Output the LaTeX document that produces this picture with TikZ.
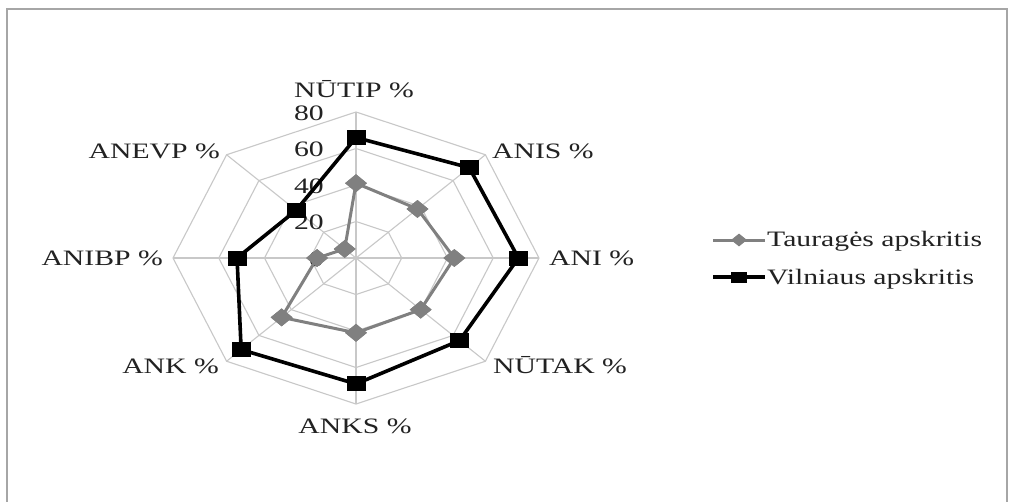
\documentclass[tikz,border=0pt]{standalone}
\usepackage{fontspec}
\usepackage{graphicx}
\setmainfont{Liberation Serif}
\usetikzlibrary{shapes.geometric}
\newcommand\hstr[1]{\scalebox{1.35}[1]{#1}}
\definecolor{gridc}{HTML}{C8C8C8}
\definecolor{serg}{HTML}{808080}
\definecolor{txtc}{HTML}{222222}
\definecolor{framec}{HTML}{A6A6A6}
\tikzset{
  gridln/.style={draw=gridc, line width=1.1pt},
  lab/.style={inner sep=0pt, text=txtc, font=\fontsize{22}{26}\selectfont},
  tline/.style={draw=serg, line width=3pt, line join=round},
  vline/.style={draw=black, line width=3.6pt, line join=miter},
  tmark/.style={diamond, fill=serg, draw=none, inner sep=0pt, minimum width=22pt, minimum height=18pt},
  vmark/.style={rectangle, fill=black, draw=none, inner sep=0pt, minimum width=19pt, minimum height=15pt},
  tlegmark/.style={diamond, fill=serg, draw=none, inner sep=0pt, minimum width=16pt, minimum height=13pt},
  vlegmark/.style={rectangle, fill=black, draw=none, inner sep=0pt, minimum width=16pt, minimum height=11pt},
}
\begin{document}
\begin{tikzpicture}[x=1pt, y=-1pt]
\useasboundingbox (0,0) rectangle (1009,501);
\fill[white] (0,0) rectangle (1009,501);
\draw[framec, line width=2pt] (6.5,520) -- (6.5,9) -- (1007,9) -- (1007,520);

\begin{scope}[shift={(356,258)}, x=2.2875pt, y=1.825pt]
  % grid
  \foreach \r in {20,40,60,80}
    \draw[gridln] (0:\r) -- (45:\r) -- (90:\r) -- (135:\r) -- (180:\r) -- (225:\r) -- (270:\r) -- (315:\r) -- cycle;
  \foreach \a in {0,45,...,315}
    \draw[gridln] (0,0) -- (\a:80);
  % scale labels
  \foreach \v/\n in {0/s0,20/s20,40/s40,60/s60,80/s80}
    \node[lab, anchor=base east] (\n) at ([xshift=-32pt, yshift=-8pt]90:\v) {\hstr{\v}};
  % Taurages
  \node[tmark] (t1) at (90:41) {};
  \node[tmark] (t2) at (45:38) {};
  \node[tmark] (t3) at (0:43) {};
  \node[tmark] (t4) at (-45:40) {};
  \node[tmark] (t5) at (-90:41) {};
  \node[tmark] (t6) at (-135:46) {};
  \node[tmark] (t7) at (180:17) {};
  \node[tmark] (t8) at (135:7) {};
  \draw[tline] (t1.center) -- (t2.center) -- (t3.center) -- (t4.center) -- (t5.center) -- (t6.center) -- (t7.center) -- (t8.center) -- cycle;
  \foreach \i in {1,...,8} \node[tmark] at (t\i) {};
  % Vilnius
  \node[vmark] (v1) at (90:66) {};
  \node[vmark] (v2) at (45:70) {};
  \node[vmark] (v3) at (0:71) {};
  \node[vmark] (v4) at (-45:64) {};
  \node[vmark] (v5) at (-90:69) {};
  \node[vmark] (v6) at (-135:71) {};
  \node[vmark] (v7) at (180:52) {};
  \node[vmark] (v8) at (135:37) {};
  \draw[vline] (v1.center) -- (v2.center) -- (v3.center) -- (v4.center) -- (v5.center) -- (v6.center) -- (v7.center) -- (v8.center) -- cycle;
  \foreach \i in {1,...,8} \node[vmark] at (v\i) {};
\end{scope}

% category labels
\node[lab, anchor=base] (lNUTIP) at (354,97) {\hstr{NŪTIP \%}};
\node[lab, anchor=base west] (lANIS) at (492,158) {\hstr{ANIS \%}};
\node[lab, anchor=base east] (lANEVP) at (220,158) {\hstr{ANEVP \%}};
\node[lab, anchor=base west] (lANI) at (549,265) {\hstr{ANI \%}};
\node[lab, anchor=base east] (lANIBP) at (163,265) {\hstr{ANIBP \%}};
\node[lab, anchor=base west] (lNUTAK) at (493,373) {\hstr{NŪTAK \%}};
\node[lab, anchor=base east] (lANK) at (219,373) {\hstr{ANK \%}};
\node[lab, anchor=base] (lANKS) at (355,433) {\hstr{ANKS \%}};

% legend
\coordinate (ta) at (713,240);
\coordinate (tb) at (765,240);
\coordinate (va) at (713,277);
\coordinate (vb) at (765,277);
\draw[draw=serg, line width=3pt] (ta) -- (tb);
\node[tlegmark] (tleg) at (739,240) {};
\draw[draw=black, line width=4pt] (va) -- (vb);
\node[vlegmark] (vleg) at (739,277) {};
\node[lab, anchor=base west] (legT) at (767,246) {\hstr{Tauragės apskritis}};
\node[lab, anchor=base west] (legV) at (767,284) {\hstr{Vilniaus apskritis}};
\end{tikzpicture}
\end{document}
